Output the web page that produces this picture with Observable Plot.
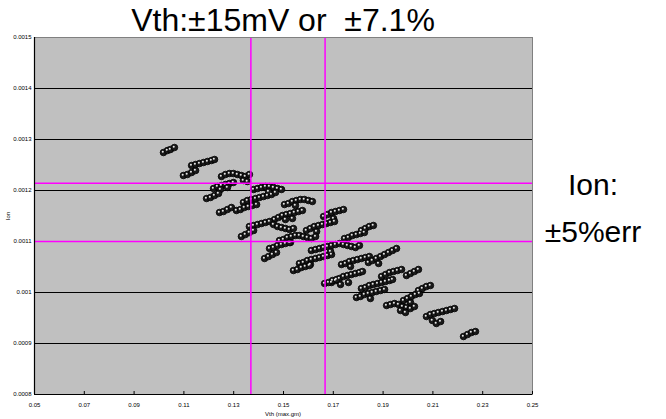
<!DOCTYPE html>
<html><head><meta charset="utf-8">
<script src="https://cdn.jsdelivr.net/npm/d3@7"></script>
<script src="https://cdn.jsdelivr.net/npm/@observablehq/plot@0.6"></script>
<style>
body{margin:0;background:#fff;}
#wrap{position:relative;width:666px;height:419px;font-family:"Liberation Sans",Arial,sans-serif;overflow:hidden;}
.lbl{position:absolute;white-space:pre;line-height:1;color:#000;}
</style></head><body>
<div id="wrap">
<div id="chart"></div>
<div class="lbl" style="left:83px;width:400px;text-align:center;top:4px;font-size:32px">Vth:±15mV or  ±7.1%</div>
<div class="lbl" style="left:493px;width:200px;text-align:center;top:170px;font-size:30px">Ion:</div>
<div class="lbl" style="left:493px;width:200px;text-align:center;top:217px;font-size:30px">±5%err</div>
<div class="lbl" style="left:183px;width:200px;text-align:center;top:411px;font-size:6px">Vth (max.gm)</div>
<div class="lbl" style="left:-12px;width:40px;text-align:center;top:213px;font-size:6px;transform:rotate(-90deg)">Ion</div>
</div>
<script>
// Vth (V) of each measured device
const vth = [
0.1018,0.1034,0.1046,0.1062,
0.1131,0.1147,0.1163,0.1179,0.1195,0.1211,0.1223,
0.1098,0.1114,0.1131,0.1147,
0.1251,0.1267,0.1283,0.1299,0.1315,0.1331,0.1347,0.1363,0.1339,0.1355,
0.1219,0.1235,0.1251,0.1267,0.1283,0.1299,0.1247,0.1275,
0.1191,0.1207,0.1223,0.1239,
0.1243,0.1259,0.1275,0.1291,
0.1339,0.1355,0.1371,0.1388,0.1404,0.1420,0.1436,0.1452,
0.1311,0.1327,0.1343,0.1359,0.1375,0.1392,
0.1380,0.1396,0.1412,0.1428,0.1444,0.1460,0.1476,0.1492,0.1440,0.1468,
0.1504,0.1520,0.1536,0.1552,0.1568,0.1584,0.1600,0.1616,0.1548,
0.1464,0.1480,0.1496,0.1512,0.1528,0.1544,0.1560,0.1576,0.1508,0.1536,
0.1363,0.1380,0.1396,0.1412,0.1428,0.1444,0.1460,0.1476,0.1492,0.1508,0.1524,0.1540,
0.1331,0.1347,0.1363,0.1380,
0.1661,0.1677,0.1693,0.1709,0.1725,0.1741,0.1701,
0.1592,0.1608,0.1624,0.1641,0.1657,0.1673,0.1689,0.1705,0.1633,
0.1484,0.1500,0.1516,0.1532,0.1548,0.1564,0.1580,0.1596,0.1612,0.1629,0.1528,
0.1444,0.1460,0.1476,0.1492,0.1508,0.1524,
0.1424,0.1440,0.1456,0.1472,
0.1564,0.1580,0.1596,0.1612,0.1629,0.1645,0.1661,0.1677,0.1693,0.1608,
0.1540,0.1556,0.1572,0.1588,0.1604,
0.1745,0.1761,0.1777,0.1793,0.1809,0.1825,
0.1813,0.1829,0.1845,0.1861,
0.1612,0.1629,0.1645,0.1661,0.1677,0.1693,0.1709,0.1725,0.1741,0.1757,0.1773,0.1789,0.1805,0.1689,
0.1733,0.1749,0.1765,0.1781,0.1797,0.1813,0.1829,0.1845,0.1769,
0.1841,0.1857,0.1873,0.1890,0.1906,0.1922,0.1938,0.1954,0.1882,
0.1693,0.1709,0.1725,0.1741,0.1757,0.1773,0.1789,0.1805,0.1817,0.1729,0.1761,
0.1665,0.1681,0.1697,0.1713,
0.1894,0.1910,0.1926,0.1942,0.1958,0.1974,
0.1994,0.2010,0.2026,0.2042,
0.1813,0.1829,0.1845,0.1861,0.1878,0.1894,0.1910,0.1926,0.1938,
0.1793,0.1809,0.1825,0.1841,0.1857,0.1873,0.1890,0.1906,0.1849,
0.1982,0.1998,0.2014,0.2030,0.2046,0.2010,
0.2042,0.2058,0.2074,0.2090,
0.1914,0.1930,0.1946,0.1962,0.1978,0.1994,0.2010,0.2026,0.1970,0.1990,
0.2074,0.2090,0.2106,0.2122,0.2139,0.2155,0.2171,0.2187,0.2098,0.2114,0.2131,
0.2223,0.2239,0.2255,0.2271
];
// Ion (A) of each measured device
const ion = [
0.0012745,0.0012784,0.0012804,0.0012843,
0.0012490,0.0012510,0.0012529,0.0012549,0.0012569,0.0012588,0.0012608,
0.0012294,0.0012314,0.0012353,0.0012392,
0.0012275,0.0012314,0.0012333,0.0012333,0.0012314,0.0012294,0.0012275,0.0012314,0.0012196,0.0012176,
0.0012039,0.0012078,0.0012098,0.0012118,0.0012137,0.0012157,0.0012020,0.0012059,
0.0011843,0.0011863,0.0011902,0.0011941,
0.0011569,0.0011588,0.0011627,0.0011667,
0.0011765,0.0011804,0.0011824,0.0011843,0.0011863,0.0011882,0.0011902,0.0011922,
0.0011608,0.0011627,0.0011667,0.0011686,0.0011706,0.0011725,
0.0012020,0.0012039,0.0012059,0.0012078,0.0012078,0.0012059,0.0012039,0.0012020,0.0011980,0.0011961,
0.0011725,0.0011745,0.0011784,0.0011804,0.0011824,0.0011824,0.0011804,0.0011784,0.0011706,
0.0011431,0.0011471,0.0011510,0.0011529,0.0011549,0.0011569,0.0011588,0.0011608,0.0011431,0.0011451,
0.0011294,0.0011314,0.0011333,0.0011353,0.0011373,0.0011392,0.0011333,0.0011294,0.0011275,0.0011255,0.0011235,0.0011255,
0.0011098,0.0011137,0.0011176,0.0011216,
0.0011490,0.0011529,0.0011569,0.0011588,0.0011608,0.0011627,0.0011451,
0.0011216,0.0011255,0.0011294,0.0011314,0.0011333,0.0011353,0.0011373,0.0011392,0.0011196,
0.0011020,0.0011039,0.0011078,0.0011098,0.0011118,0.0011118,0.0011098,0.0011078,0.0011059,0.0011098,0.0010980,
0.0010863,0.0010882,0.0010922,0.0010941,0.0010961,0.0010980,
0.0010667,0.0010706,0.0010745,0.0010784,
0.0010569,0.0010588,0.0010627,0.0010647,0.0010667,0.0010686,0.0010706,0.0010725,0.0010745,0.0010549,
0.0010431,0.0010451,0.0010490,0.0010510,0.0010529,
0.0011059,0.0011078,0.0011118,0.0011137,0.0011157,0.0011176,
0.0011216,0.0011255,0.0011294,0.0011314,
0.0010824,0.0010843,0.0010863,0.0010882,0.0010902,0.0010922,0.0010941,0.0010961,0.0010941,0.0010922,0.0010902,0.0010882,0.0010922,0.0010804,
0.0010549,0.0010569,0.0010608,0.0010627,0.0010647,0.0010667,0.0010686,0.0010706,0.0010510,
0.0010588,0.0010627,0.0010667,0.0010706,0.0010745,0.0010784,0.0010824,0.0010863,0.0010569,
0.0010196,0.0010235,0.0010275,0.0010314,0.0010333,0.0010353,0.0010373,0.0010392,0.0010412,0.0010157,0.0010196,
0.0010176,0.0010196,0.0010235,0.0010255,
0.0010314,0.0010353,0.0010392,0.0010412,0.0010431,0.0010451,
0.0010333,0.0010373,0.0010412,0.0010451,
0.0010078,0.0010098,0.0010137,0.0010157,0.0010176,0.0010196,0.0010216,0.0010235,0.0010255,
0.0009902,0.0009922,0.0009961,0.0009980,0.0010000,0.0010020,0.0010039,0.0010059,0.0009882,
0.0009843,0.0009882,0.0009922,0.0009961,0.0009980,0.0009804,
0.0010039,0.0010078,0.0010118,0.0010137,
0.0009745,0.0009765,0.0009784,0.0009765,0.0009725,0.0009706,0.0009686,0.0009725,0.0009647,0.0009608,
0.0009529,0.0009569,0.0009588,0.0009608,0.0009627,0.0009647,0.0009667,0.0009686,0.0009451,0.0009392,0.0009431,
0.0009137,0.0009176,0.0009216,0.0009235
];
// Spec window limits
const vthLimits = [0.1369, 0.1667];   // Vth ±15 mV
const ionLimits = [0.0011, 0.001214]; // Ion ±5 %
// Axis ticks and labels
const xTicks = [0.05,0.07,0.09,0.11,0.13,0.15,0.17,0.19,0.21,0.23,0.25];
const xLabels = ["0.05","0.07","0.09","0.11","0.13","0.15","0.17","0.19","0.21","0.23","0.25"];
const yTicks = [0.0008,0.0009,0.001,0.0011,0.0012,0.0013,0.0014,0.0015];
const yLabels = ["0.0008","0.0009","0.001","0.0011","0.0012","0.0013","0.0014","0.0015"];

const data = vth.map((v, i) => ({vth: v, ion: ion[i]}));
const lab = (ticks, labels) => d => labels[ticks.findIndex(t => Math.abs(t - d) < 1e-9)] ?? "";

const chart = Plot.plot({
  width: 666, height: 419,
  marginLeft: 34, marginRight: 134, marginTop: 37, marginBottom: 25,
  style: {fontFamily: "Liberation Sans, Arial, sans-serif", fontSize: "6px", background: "transparent", color: "#000"},
  x: {domain: [0.05, 0.25]},
  y: {domain: [0.0008, 0.0015]},
  marks: [
    Plot.frame({fill: "#c0c0c0"}),
    Plot.ruleY(yTicks, {stroke: "#000", strokeWidth: 1}),
    Plot.dot(data, {x: "vth", y: "ion", r: 3.3, fill: "#1a1a1a", stroke: "#000", strokeWidth: 0.8}),
    Plot.dot(data, {x: "vth", y: "ion", r: 1, fill: "#e8e8e8", dx: -0.7, dy: -0.7}),
    Plot.ruleX(vthLimits, {stroke: "#ff00ff", strokeWidth: 1.5}),
    Plot.ruleY(ionLimits, {stroke: "#ff00ff", strokeWidth: 1.5}),
    Plot.frame({stroke: "#808080"}),
    Plot.ruleX([0.05], {stroke: "#000", strokeWidth: 1.2}),
    Plot.ruleY([0.0008], {stroke: "#000", strokeWidth: 1.2}),
    Plot.axisY({ticks: yTicks, tickFormat: lab(yTicks, yLabels), tickSize: 0, tickPadding: 3, label: null}),
    Plot.axisX({ticks: xTicks, tickFormat: lab(xTicks, xLabels), tickSize: 0, tickPadding: 8, label: null}),
    Plot.axisX({ticks: xTicks, tickFormat: () => "", tickSize: 3, dy: -3, label: null})
  ]
});
document.getElementById("chart").appendChild(chart);
</script>
</body></html>
